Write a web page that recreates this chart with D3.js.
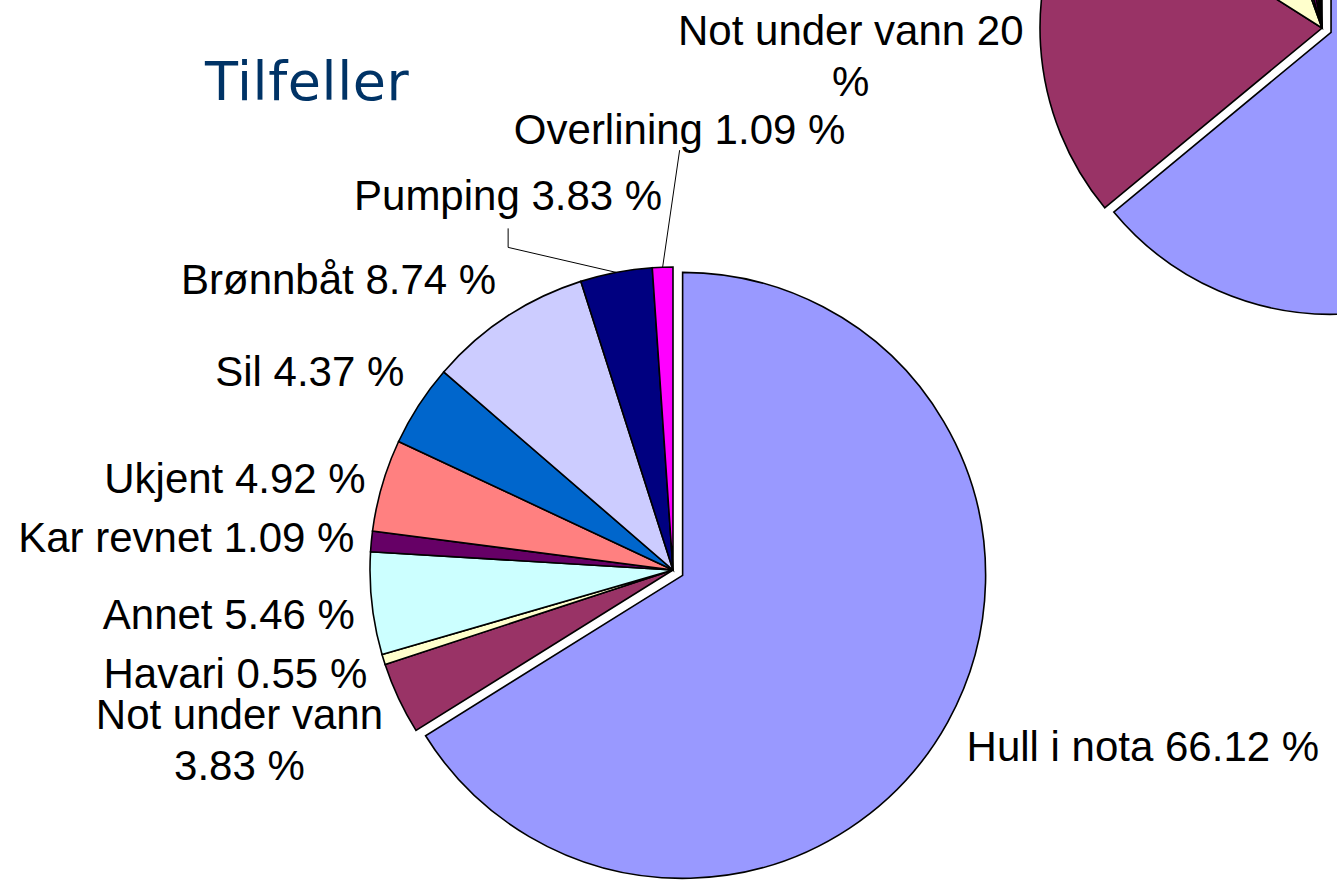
<!DOCTYPE html>
<html>
<head>
<meta charset="utf-8">
<script src="https://cdn.jsdelivr.net/npm/d3@7"></script>
<style>
  html, body { margin: 0; padding: 0; background: #fff; overflow: hidden; }
  svg { display: block; }
</style>
</head>
<body>
<svg id="chart" width="1337" height="882"></svg>
<script>
// ---- data ----
const categories = ["Hull i nota", "Not under vann", "Havari", "Annet", "Kar revnet", "Ukjent", "Sil", "Brønnbåt", "Pumping", "Overlining"];
const casesPct = [66.12, 3.83, 0.55, 5.46, 1.09, 4.92, 4.37, 8.74, 3.83, 1.09];      // "Tilfeller" pie
const secondPct = [64.0, 20.0, 10.5, 1.0, 1.5, 1.0, 0.5, 0.5, 0.5, 0.5];              // partly visible pie (top right)
const colors = ["#9999FF", "#993366", "#FFFFCC", "#CCFFFF", "#660066", "#FF8080", "#0066CC", "#CCCCFF", "#000080", "#FF00FF"];
const titleText = "Tilfeller";

// ---- layout ----
const W = 1337, H = 882;
const FONT = "'Liberation Sans', Arial, sans-serif";
const FS = 42, LH = 51;
const svg = d3.select("#chart");

svg.append("text")
  .attr("x", 205).attr("y", 100)
  .attr("font-family", "'DejaVu Sans', Verdana, sans-serif")
  .attr("font-size", 54)
  .attr("letter-spacing", 0.6)
  .attr("fill", "#003366")
  .text(titleText);

const pieGen = d3.pie().sort(null).value(d => d.v).startAngle(0).endAngle(2 * Math.PI);

// label leader overrides (offset of label's bottom-centre from slice outer point; elbow y offset)
const leaderLabels = {
  "Pumping": { dx: -108, dy: -44, elbow: -25, baseOff: -18 },
  "Overlining": { dx: 17, dy: -117, elbow: null, baseOff: -6 }
};

function drawPie(cfg) {
  const data = categories.map((c, i) => ({ c, v: cfg.values[i], color: colors[i] }));
  const arcs = pieGen(data);
  const arc = d3.arc().innerRadius(0).outerRadius(cfg.r);
  const g = svg.append("g").attr("transform", `translate(${cfg.cx},${cfg.cy})`);

  const off = d => {
    if (d.data.c !== cfg.explode) return [0, 0];
    const a = (d.startAngle + d.endAngle) / 2;
    return [Math.sin(a) * cfg.explodeDist, -Math.cos(a) * cfg.explodeDist];
  };

  g.selectAll("path.slice").data(arcs).join("path")
    .attr("class", "slice")
    .attr("d", arc)
    .attr("transform", d => `translate(${off(d)})`)
    .attr("fill", d => d.data.color)
    .attr("stroke", "#000")
    .attr("stroke-width", 1.6)
    .attr("stroke-linejoin", "miter");

  // labels
  const lg = svg.append("g").attr("font-family", FONT).attr("font-size", FS).attr("fill", "#000");
  arcs.forEach(d => {
    const a = (d.startAngle + d.endAngle) / 2;
    const ux = Math.sin(a), uy = -Math.cos(a);
    const [ox, oy] = off(d);
    const cx = cfg.cx + ox, cy = cfg.cy + oy;
    const label = `${d.data.c} ${cfg.fmt(d.data.v)} %`;
    const lead = cfg.leaders ? leaderLabels[d.data.c] : null;

    if (lead) {
      const px = cx + ux * cfg.r, py = cy + uy * cfg.r;
      const lx = px + lead.dx, ly = py + lead.dy;
      const pts = lead.elbow === null ? [[px, py], [lx, ly]] : [[px, py], [lx, py + lead.elbow], [lx, ly]];
      lg.append("path").attr("d", d3.line()(pts)).attr("fill", "none").attr("stroke", "#000").attr("stroke-width", 1);
      lg.append("text").attr("x", lx).attr("y", ly + lead.baseOff).attr("text-anchor", "middle").text(label);
      return;
    }

    const R = cfg.r + 16;
    const ax = cx + ux * R, ay = cy + uy * R;
    if (ax < -50 || ax > W + 50 || ay < -20 || ay > H + 20) return; // outside the picture

    // wrap to max width
    const words = label.split(" ");
    const lines = [];
    const probe = lg.append("text");
    let cur = "";
    words.forEach(w => {
      const t = cur ? cur + " " + w : w;
      probe.text(t);
      if (cur && probe.node().getComputedTextLength() > 360) { lines.push(cur); cur = w; }
      else cur = t;
    });
    lines.push(cur);
    const widths = lines.map(l => { probe.text(l); return probe.node().getComputedTextLength(); });
    probe.remove();
    const blockW = Math.max(...widths);

    const left = ux < 0;
    const bx = left ? ax - 1 - blockW : ax + 5; // block left edge
    let firstBase;
    if (uy < -0.4) firstBase = ay - 10 - (lines.length - 1) * LH;
    else if (uy < 0.09) firstBase = ay + (lines.length > 1 ? 24 : 12) - (lines.length - 1) * LH / 2;
    else firstBase = ay + (left ? 24 : 31);

    const t = lg.append("text").attr("text-anchor", lines.length > 1 ? "middle" : "start");
    lines.forEach((l, i) => {
      t.append("tspan")
        .attr("x", lines.length > 1 ? bx + blockW / 2 : bx)
        .attr("y", firstBase + i * LH)
        .text(l);
    });
  });
}

drawPie({ values: secondPct, cx: 1322, cy: 28, r: 282, explode: "Hull i nota", explodeDist: 10, fmt: v => d3.format("~r")(v), leaders: false });
drawPie({ values: casesPct, cx: 673, cy: 570, r: 303, explode: "Hull i nota", explodeDist: 11, fmt: v => v.toFixed(2), leaders: true });
</script>
</body>
</html>
